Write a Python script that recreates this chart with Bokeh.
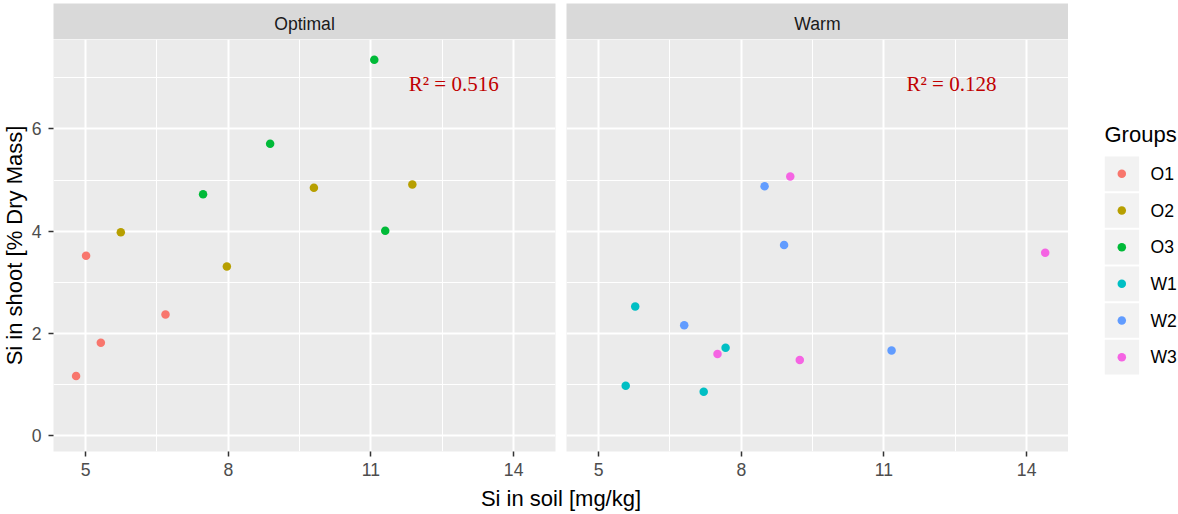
from bokeh.plotting import figure
from bokeh.layouts import row, column
from bokeh.models import Range1d, FactorRange, FixedTicker, Grid
from bokeh.embed import file_html
from bokeh.resources import INLINE
from bokeh.core.properties import value

# ---------------- data ----------------
groups = ["O1", "O2", "O3", "W1", "W2", "W3"]
colors = ["#F8766D", "#B79F00", "#00BA38", "#00BFC4", "#619CFF", "#F564E3"]
facets = ["Optimal", "Warm"]
facet_groups = [["O1", "O2", "O3"], ["W1", "W2", "W3"]]

O1_soil = [4.80, 5.01, 5.32, 6.68]
O1_shoot = [1.17, 3.52, 1.82, 2.37]
O2_soil = [5.74, 7.97, 9.80, 11.87]
O2_shoot = [3.98, 3.31, 4.85, 4.91]
O3_soil = [7.47, 8.88, 11.07, 11.30]
O3_shoot = [4.72, 5.71, 7.35, 4.01]
W1_soil = [5.77, 5.57, 7.67, 7.21]
W1_shoot = [2.53, 0.98, 1.72, 0.86]
W2_soil = [8.49, 8.90, 6.80, 11.16]
W2_shoot = [4.88, 3.73, 2.16, 1.67]
W3_soil = [9.03, 14.39, 7.50, 9.23]
W3_shoot = [5.07, 3.58, 1.60, 1.48]

soil = {"O1": O1_soil, "O2": O2_soil, "O3": O3_soil,
        "W1": W1_soil, "W2": W2_soil, "W3": W3_soil}
shoot = {"O1": O1_shoot, "O2": O2_shoot, "O3": O3_shoot,
         "W1": W1_shoot, "W2": W2_shoot, "W3": W3_shoot}

r2_labels = ["R\u00b2 = 0.516", "R\u00b2 = 0.128"]
r2_x = [12.74, 12.42]
r2_y = [6.88, 6.88]

x_ticks = [5, 8, 11, 14]
y_ticks = [0, 2, 4, 6]
x_lim = (4.325, 14.88)
y_lim = (-0.306, 7.746)

x_title = "Si in soil [mg/kg]"
y_title = "Si in shoot [% Dry Mass]"
legend_title = "Groups"

# ---------------- style ----------------
SANS = "Liberation Sans"
SERIF = "Liberation Serif"
PANEL_BG = "#EBEBEB"
STRIP_BG = "#D9D9D9"
FW, FH = 502, 412
LEFT = 62          # left border of the first column (shifted back by the root margin)
SHIFT = 9
BOTTOM = 46        # bottom border of the panels
LG_W = 109
T_H = 29
T_OVERLAP = 14

x_minor = [t - 1.5 for t in x_ticks] + [x_ticks[-1] + 1.5]
y_minor = [t - 1 for t in y_ticks] + [y_ticks[-1] + 1]


def bare(fig):
    fig.grid.visible = False
    return fig


def make_grid(dim, ticks, minor):
    return Grid(dimension=dim, ticker=FixedTicker(ticks=ticks, minor_ticks=minor),
                grid_line_color="white", grid_line_width=2,
                minor_grid_line_color="white", minor_grid_line_width=1)


def strip(label, left, right):
    s = figure(frame_width=FW, frame_height=36, x_range=Range1d(*x_lim), y_range=Range1d(0, 1),
               min_border_left=left, min_border_right=right, min_border_top=3, min_border_bottom=0,
               x_axis_location=None, y_axis_location=None, toolbar_location=None,
               output_backend="svg", background_fill_color=STRIP_BG, border_fill_color="white",
               outline_line_color=None)
    bare(s)
    s.text(x=[(x_lim[0] + x_lim[1]) / 2], y=[0.417], text=[label], text_align="center",
           text_baseline="middle", text_font=value(SANS), text_font_size="17.6px",
           text_color="#1A1A1A")
    return s


def panel(idx, show_y):
    p = figure(frame_width=FW, frame_height=FH, x_range=Range1d(*x_lim), y_range=Range1d(*y_lim),
               min_border_left=LEFT if show_y else 6, min_border_right=5 if show_y else 0,
               min_border_top=0, min_border_bottom=BOTTOM,
               x_axis_location="below", y_axis_location="left" if show_y else None,
               toolbar_location=None, output_backend="svg",
               background_fill_color=PANEL_BG, border_fill_color="white", outline_line_color=None)
    bare(p)
    p.add_layout(make_grid(0, x_ticks, x_minor), "center")
    p.add_layout(make_grid(1, y_ticks, y_minor), "center")
    axes = [p.xaxis[0]] + ([p.yaxis[0]] if show_y else [])
    p.xaxis.ticker = FixedTicker(ticks=x_ticks)
    p.xaxis.major_label_standoff = 6
    if show_y:
        p.yaxis.ticker = FixedTicker(ticks=y_ticks)
        p.yaxis.axis_label = y_title
        p.yaxis.axis_label_text_font = SANS
        p.yaxis.axis_label_text_font_size = "22px"
        p.yaxis.axis_label_text_font_style = "normal"
        p.yaxis.axis_label_text_color = "black"
        p.yaxis.axis_label_standoff = 2
        p.yaxis.major_label_standoff = 7
    for ax in axes:
        ax.axis_line_color = None
        ax.major_tick_line_color = "#333333"
        ax.major_tick_line_width = 1.5
        ax.major_tick_in = 0
        ax.major_tick_out = 5
        ax.minor_tick_in = 0
        ax.minor_tick_out = 0
        ax.minor_tick_line_color = None
        ax.major_label_text_font = SANS
        ax.major_label_text_font_size = "17.6px"
        ax.major_label_text_color = "#4D4D4D"
    for g in facet_groups[idx]:
        c = colors[groups.index(g)]
        p.scatter(soil[g], shoot[g], size=8.5, fill_color=c, line_color=None)
    p.text(x=[r2_x[idx]], y=[r2_y[idx]], text=[r2_labels[idx]], text_align="center",
           text_baseline="middle", text_font=value(SERIF), text_font_size="21px",
           text_color="#C00000")
    return p


sa = strip(facets[0], LEFT, 5)
pa = panel(0, True)
sb = strip(facets[1], 6, 0)
pb = panel(1, False)

# legend (drawn as its own small plot, ggplot style keys)
lg = figure(frame_width=LG_W - 36, frame_height=220, x_range=Range1d(0, LG_W - 36),
            y_range=FactorRange(factors=groups[::-1]),
            min_border_left=36, min_border_right=0, min_border_top=155, min_border_bottom=114,
            x_axis_location=None, y_axis_location=None, toolbar_location=None,
            output_backend="svg", outline_line_color=None, background_fill_color="white",
            border_fill_color="white", title=legend_title)
bare(lg)
lg.title.align = "left"
lg.title.text_font = SANS
lg.title.text_font_size = "22px"
lg.title.text_font_style = "normal"
lg.title.text_color = "black"
lg.title.standoff = 17
lg.title.offset = 0
lg.rect(x=17.3, y=groups, width=34.6, height=34.6, width_units="screen", height_units="screen",
        fill_color="#F2F2F2", line_color=None)
lg.scatter(x=17.3, y=groups, size=8.5, fill_color=colors, line_color=None)
lg.text(x=46, y=groups, text=groups, text_align="left", text_baseline="middle",
        text_font=value(SANS), text_font_size="17.6px", text_color="black")

# x-axis title, centred over both panels (transparent, overlapping the empty bottom border)
row_w = (LEFT + FW + 5) + (6 + FW) + LG_W
t = figure(frame_width=1015, frame_height=T_H, x_range=Range1d(0, 1), y_range=Range1d(0, 1),
           min_border_left=LEFT, min_border_right=row_w - LEFT - 1015, min_border_top=0,
           min_border_bottom=0,
           x_axis_location=None, y_axis_location=None, toolbar_location=None,
           output_backend="svg", outline_line_color=None, background_fill_color=None,
           border_fill_color=None)
bare(t)
t.text(x=[0.5], y=[0.497], text=[x_title], text_align="center", text_baseline="middle",
       text_font=value(SANS), text_font_size="22px", text_color="black")
t.styles = {"margin-top": "-%dpx" % T_OVERLAP}

layout = column(row(column(sa, pa), column(sb, pb), lg), t)
layout.styles = {"margin-left": "-%dpx" % SHIFT}

open("out.html", "w").write(file_html(layout, INLINE))
